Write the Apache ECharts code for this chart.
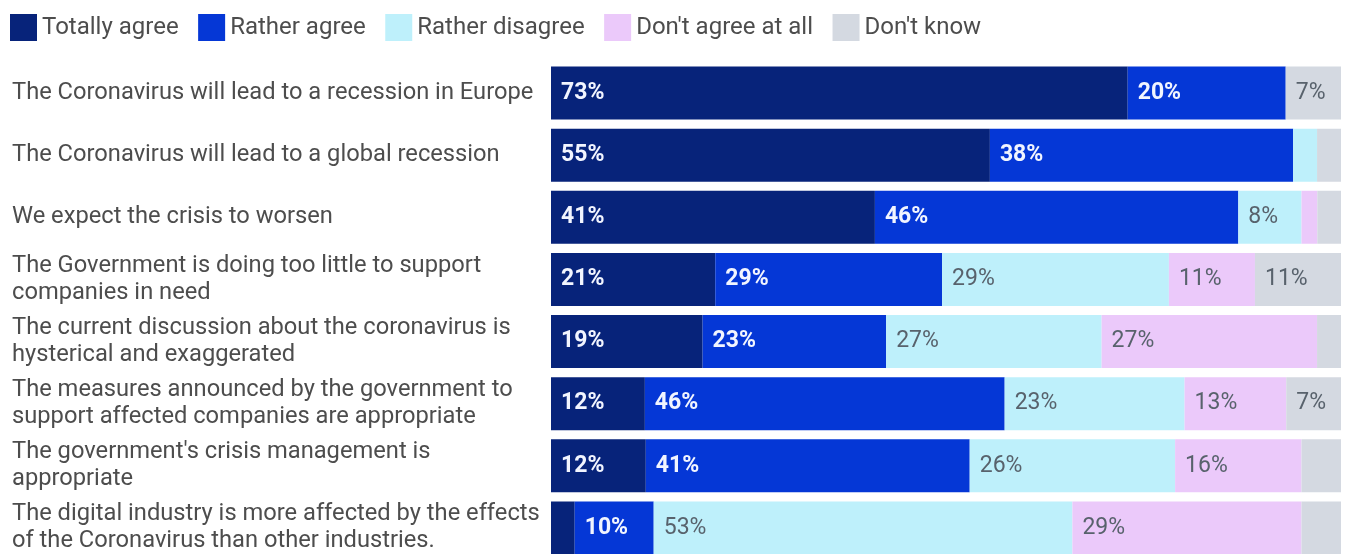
<!DOCTYPE html>
<html>
<head>
<meta charset="utf-8">
<script src="https://cdn.jsdelivr.net/npm/echarts@6/dist/echarts.min.js"></script>
<style>
html,body{margin:0;padding:0;background:#fff;overflow:hidden;}
#chart{width:1350px;height:570px;}
</style>
</head>
<body>
<div id="chart"></div>
<script>
const categories = [
  "The Coronavirus will lead to a recession in Europe",
  "The Coronavirus will lead to a global recession",
  "We expect the crisis to worsen",
  "The Government is doing too little to support\ncompanies in need",
  "The current discussion about the coronavirus is\nhysterical and exaggerated",
  "The measures announced by the government to\nsupport affected companies are appropriate",
  "The government's crisis management is\nappropriate",
  "The digital industry is more affected by the effects\nof the Coronavirus than other industries."
];
const seriesNames = ["Totally agree", "Rather agree", "Rather disagree", "Don't agree at all", "Don't know"];
const totallyAgree    = [73, 55, 41, 21, 19, 12, 12, 3];
const ratherAgree     = [20, 38, 46, 29, 23, 46, 41, 10];
const ratherDisagree  = [0, 3, 8, 29, 27, 23, 26, 53];
const dontAgreeAtAll  = [0, 0, 2, 11, 27, 13, 16, 29];
const dontKnow        = [7, 3, 3, 11, 3, 7, 5, 5];

const colors = ["#07237a", "#0537d6", "#bef0fb", "#ebc9fa", "#d4d9e1"];
const allValues = [totallyAgree, ratherAgree, ratherDisagree, dontAgreeAtAll, dontKnow];
const rowSums = categories.map((c, i) => allValues.reduce((s, arr) => s + arr[i], 0));

const series = allValues.map((arr, si) => ({
  name: seriesNames[si],
  type: 'bar',
  stack: 'total',
  barWidth: 53,
  itemStyle: { color: colors[si] },
  label: {
    show: true,
    position: 'insideLeft',
    distance: 10,
    fontFamily: 'Roboto',
    fontSize: 23,
    fontWeight: si < 2 ? 'bold' : 'normal',
    color: si < 2 ? '#f2f5ff' : '#58626c',
    formatter: p => (p.data.raw >= 6 ? p.data.raw + '%' : '')
  },
  emphasis: { disabled: true },
  data: arr.map((v, i) => ({ value: v / rowSums[i] * 100, raw: v }))
}));

const chart = echarts.init(document.getElementById('chart'), null, { renderer: 'canvas' });
chart.setOption({
  animation: false,
  backgroundColor: '#ffffff',
  legend: {
    left: 5,
    top: 9,
    icon: 'rect',
    itemWidth: 27,
    itemHeight: 27,
    itemGap: 19.5,
    textStyle: { fontFamily: 'Roboto', fontSize: 24, color: '#4d4d4d' },
    data: seriesNames
  },
  grid: { left: 551, right: 9, top: 62, height: 497, containLabel: false },
  xAxis: { type: 'value', min: 0, max: 100, show: false },
  yAxis: {
    type: 'category',
    inverse: true,
    data: categories,
    axisLine: { show: false },
    axisTick: { show: false },
    axisLabel: {
      align: 'left',
      margin: 539,
      fontFamily: 'Roboto',
      fontSize: 23.7,
      lineHeight: 27,
      color: '#4d4d4d'
    }
  },
  series: series
});
</script>
</body>
</html>
